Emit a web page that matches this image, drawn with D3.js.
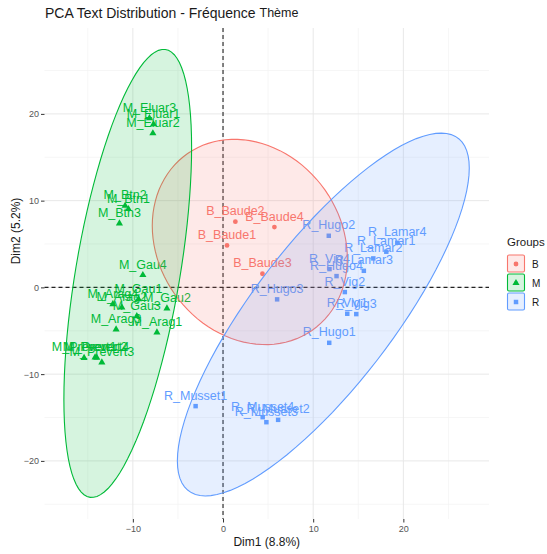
<!DOCTYPE html>
<html>
<head>
<meta charset="utf-8">
<script src="https://cdn.jsdelivr.net/npm/d3@7"></script>
<style>
body { margin: 0; background: #fff; }
text { font-family: "Liberation Sans", Arial, Helvetica, sans-serif; }
</style>
</head>
<body>
<div id="chart"></div>
<script>
// individuals, coordinates on Dim1 / Dim2 and their group
var groups = ["B", "M", "R"];
var names = ["B_Baude1", "B_Baude2", "B_Baude3", "B_Baude4",
    "M_Eluar1", "M_Eluar2", "M_Eluar3", "M_Btn1", "M_Btn2", "M_Btn3",
    "M_Gau1", "M_Gau2", "M_Gau3", "M_Gau4", "M_Arag1", "M_Arag2", "M_Arag3", "M_Arag4",
    "M_Prevert1", "M_Prevert2", "M_Prevert3", "M_Prevert4",
    "R_Hugo1", "R_Hugo2", "R_Hugo3", "R_Hugo4", "R_Lamar1", "R_Lamar2", "R_Lamar3", "R_Lamar4",
    "R_Vig1", "R_Vig2", "R_Vig3", "R_Vig4", "R_Musset1", "R_Musset2", "R_Musset3", "R_Musset4"];
var dim1 = [0.44, 1.37, 4.37, 5.7,
    -7.71, -7.78, -8.16, -10.49, -10.86, -11.49,
    -9.38, -6.22, -9.56, -8.89, -7.33, -11.22, -11.86, -12.22,
    -15.41, -14.19, -13.44, -14.0,
    11.78, 11.73, 6.0, 12.59, 18.11, 16.67, 15.62, 19.33,
    13.78, 13.51, 14.78, 11.81, -3.04, 6.11, 4.81, 4.4];
var dim2 = [4.84, 7.57, 1.57, 6.95,
    18.8, 17.76, 19.5, 9.03, 9.41, 7.38,
    -1.35, -2.42, -3.31, 1.42, -5.19, -2.31, -4.84, -1.93,
    -8.12, -8.07, -8.65, -8.1,
    -6.39, 5.95, -1.38, 1.3, 4.11, 3.34, 1.91, 5.14,
    -3.04, -0.54, -3.08, 2.11, -13.69, -15.27, -15.54, -14.96];
var group = names.map(function (n) { return n.charAt(0); });

var xTicks = [-10, 0, 10, 20];
var yTicks = [-20, -10, 0, 10, 20];

var width = 547, height = 554;
var panel = { left: 44.5, right: 489, top: 28, bottom: 519 };

var x = d3.scaleLinear().domain([-19.8, 29.5]).range([panel.left, panel.right]);
var y = d3.scaleLinear().domain([-26.7, 29.9]).range([panel.bottom, panel.top]);

var color = d3.scaleOrdinal().domain(groups).range(["#F8766D", "#00BA38", "#619CFF"]);
var shape = d3.scaleOrdinal().domain(groups).range([d3.symbolCircle, d3.symbolTriangle, d3.symbolSquare]);
var shapeSize = { B: 18, M: 22, R: 20 };

var points = names.map(function (n, i) {
    return { name: n, x: dim1[i], y: dim2[i], group: group[i] };
});

// normal-probability ellipse like stat_ellipse(type = "norm", level = 0.95)
function normEllipse(pts, level) {
    var n = pts.length;
    var mx = d3.mean(pts, function (d) { return d.x; });
    var my = d3.mean(pts, function (d) { return d.y; });
    var sxx = 0, syy = 0, sxy = 0;
    pts.forEach(function (d) {
        sxx += (d.x - mx) * (d.x - mx);
        syy += (d.y - my) * (d.y - my);
        sxy += (d.x - mx) * (d.y - my);
    });
    sxx /= n - 1; syy /= n - 1; sxy /= n - 1;
    var r11 = Math.sqrt(sxx), r12 = sxy / r11, r22 = Math.sqrt(syy - r12 * r12);
    var dfd = n - 1;
    var f = dfd / 2 * (Math.pow(1 - level, -2 / dfd) - 1); // qf(level, 2, dfd)
    var radius = Math.sqrt(2 * f);
    return d3.range(0, 101).map(function (k) {
        var a = k / 100 * 2 * Math.PI;
        return [mx + radius * r11 * Math.cos(a),
                my + radius * (r12 * Math.cos(a) + r22 * Math.sin(a))];
    });
}

var svg = d3.select("#chart").append("svg")
    .attr("width", width)
    .attr("height", height);

// grid
var minorX = [-15, -5, 5, 15, 25], minorY = [-25, -15, -5, 5, 15, 25];
var grid = svg.append("g");
grid.selectAll(".mx").data(minorX).enter().append("line")
    .attr("x1", x).attr("x2", x).attr("y1", panel.top).attr("y2", panel.bottom)
    .attr("stroke", "#f2f2f2").attr("stroke-width", 0.7);
grid.selectAll(".my").data(minorY).enter().append("line")
    .attr("y1", y).attr("y2", y).attr("x1", panel.left).attr("x2", panel.right)
    .attr("stroke", "#f2f2f2").attr("stroke-width", 0.7);
grid.selectAll(".gx").data(xTicks).enter().append("line")
    .attr("x1", x).attr("x2", x).attr("y1", panel.top).attr("y2", panel.bottom)
    .attr("stroke", "#e8e8e8").attr("stroke-width", 1);
grid.selectAll(".gy").data(yTicks).enter().append("line")
    .attr("y1", y).attr("y2", y).attr("x1", panel.left).attr("x2", panel.right)
    .attr("stroke", "#e8e8e8").attr("stroke-width", 1);

// axes
var xAxis = svg.append("g")
    .attr("transform", "translate(0," + panel.bottom + ")")
    .call(d3.axisBottom(x).tickValues(xTicks).tickSize(3.5).tickPadding(3));
var yAxis = svg.append("g")
    .attr("transform", "translate(" + panel.left + ",0)")
    .call(d3.axisLeft(y).tickValues(yTicks).tickSize(3.5).tickPadding(2));
[xAxis, yAxis].forEach(function (a) {
    a.select(".domain").remove();
    a.selectAll(".tick line").attr("stroke", "#333");
    a.selectAll(".tick text").attr("fill", "#555").style("font-size", "9px")
        .style("font-family", "'Liberation Sans', Arial, sans-serif");
});

// reference lines at 0
svg.append("line")
    .attr("x1", x(0)).attr("x2", x(0)).attr("y1", panel.top).attr("y2", panel.bottom)
    .attr("stroke", "#222").attr("stroke-width", 1.1).attr("stroke-dasharray", "4,3");
svg.append("line")
    .attr("y1", y(0)).attr("y2", y(0)).attr("x1", panel.left).attr("x2", panel.right)
    .attr("stroke", "#222").attr("stroke-width", 1.1).attr("stroke-dasharray", "4,3");

// points and labels
var ind = svg.append("g").selectAll("g").data(points).enter().append("g");
ind.append("path")
    .attr("d", function (d) { return d3.symbol().type(shape(d.group)).size(shapeSize[d.group])(); })
    .attr("transform", function (d) { return "translate(" + x(d.x) + "," + y(d.y) + ")"; })
    .attr("fill", function (d) { return color(d.group); });
ind.append("text")
    .attr("x", function (d) { return x(d.x); })
    .attr("y", function (d) { return y(d.y) - 6.5; })
    .attr("text-anchor", "middle")
    .style("font-size", "12.5px")
    .attr("fill", function (d) { return color(d.group); })
    .text(function (d) { return d.name; });

// ellipses on top
var line = d3.line()
    .x(function (d) { return x(d[0]); })
    .y(function (d) { return y(d[1]); });
svg.append("g").selectAll("path").data(groups).enter().append("path")
    .attr("d", function (g) {
        return line(normEllipse(points.filter(function (p) { return p.group === g; }), 0.95)) + "Z";
    })
    .attr("fill", function (g) { return color(g); })
    .attr("fill-opacity", 0.16)
    .attr("stroke", function (g) { return color(g); })
    .attr("stroke-width", 1.1);

// titles
var title = svg.append("text").attr("x", 45).attr("y", 18).attr("fill", "#1a1a1a");
title.append("tspan").style("font-size", "14px").text("PCA Text Distribution - Fréquence ");
title.append("tspan").style("font-size", "12.5px").attr("dy", -1).text("Thème");

svg.append("text")
    .attr("x", (panel.left + panel.right) / 2).attr("y", 546)
    .attr("text-anchor", "middle").style("font-size", "12px").attr("fill", "#1a1a1a")
    .text("Dim1 (8.8%)");
svg.append("text")
    .attr("transform", "translate(19.5,231) rotate(-90)")
    .attr("text-anchor", "middle").style("font-size", "12px").attr("fill", "#1a1a1a")
    .text("Dim2 (5.2%)");

// legend
var legend = svg.append("g").attr("transform", "translate(507,0)");
legend.append("text").attr("x", 0).attr("y", 246)
    .style("font-size", "11.5px").attr("fill", "#1a1a1a").text("Groups");
var key = legend.selectAll(".key").data(groups).enter().append("g")
    .attr("transform", function (g, i) { return "translate(0," + (254.5 + i * 19) + ")"; });
key.append("rect")
    .attr("x", 0.5).attr("y", 0.5).attr("width", 17).attr("height", 17).attr("rx", 1.5)
    .attr("fill", function (g) { return color(g); }).attr("fill-opacity", 0.16)
    .attr("stroke", function (g) { return color(g); }).attr("stroke-width", 1.1);
key.append("path")
    .attr("d", function (g) { return d3.symbol().type(shape(g)).size(shapeSize[g])(); })
    .attr("transform", "translate(9,9.5)")
    .attr("fill", function (g) { return color(g); });
key.append("text")
    .attr("x", 9).attr("y", 11).attr("text-anchor", "middle")
    .style("font-size", "7px").attr("fill", function (g) { return color(g); })
    .text("a");
key.append("text")
    .attr("x", 25).attr("y", 13)
    .style("font-size", "10px").attr("fill", "#1a1a1a")
    .text(function (g) { return g; });
</script>
</body>
</html>
